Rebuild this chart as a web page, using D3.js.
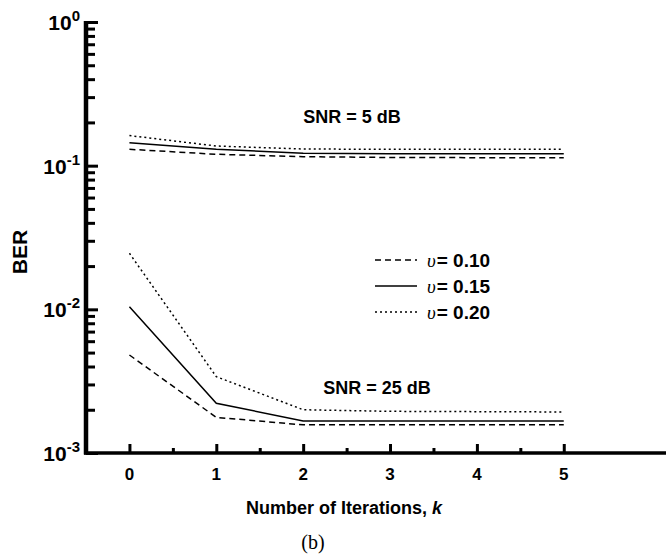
<!DOCTYPE html>
<html><head><meta charset="utf-8">
<script src="https://cdn.jsdelivr.net/npm/d3@7"></script>
<style>body{margin:0;background:#fff}svg{display:block}</style>
</head><body>
<svg id="c" width="666" height="557"></svg>
<script>
const iterations = [0, 1, 2, 3, 4, 5];
const snr5_v010 = [0.130, 0.120, 0.1155, 0.114, 0.1137, 0.1137];
const snr5_v015 = [0.1445, 0.130, 0.122, 0.121, 0.121, 0.121];
const snr5_v020 = [0.162, 0.137, 0.1306, 0.130, 0.130, 0.130];
const snr25_v010 = [0.00481, 0.00177, 0.00157, 0.00157, 0.00157, 0.00157];
const snr25_v015 = [0.01044, 0.00222, 0.00167, 0.00167, 0.00167, 0.00167];
const snr25_v020 = [0.02455, 0.0034, 0.0020, 0.00195, 0.00194, 0.00193];
const legendLabels = ["0.10", "0.15", "0.20"];
const xTicks = [0, 1, 2, 3, 4, 5];
const yDecades = [0, -1, -2, -3];

const svg = d3.select("#c");
const x = d3.scaleLinear().domain([-0.5, 6.2]).range([86, 668]);
const y = d3.scaleLog().domain([1e-3, 1]).range([453, 22]);
const dashes = ["6,4", null, "2,3"];

const line = d3.line().x((d, i) => x(iterations[i])).y(d => y(d));
const groups = [[snr5_v010, snr5_v015, snr5_v020], [snr25_v010, snr25_v015, snr25_v020]];
groups.forEach(g => g.forEach((s, j) => {
  svg.append("path").attr("d", line(s)).attr("fill", "none").attr("stroke", "#000")
    .attr("stroke-width", 1.5).attr("stroke-dasharray", dashes[j]);
}));

// axes
const yAxis = d3.axisRight(y).tickValues(
  d3.range(-3, 0).flatMap(e => d3.range(1, 10).map(m => m * Math.pow(10, e))).concat([1])
).tickFormat("").tickSizeOuter(0).tickSize(0);
const yg = svg.append("g").attr("transform", `translate(${x(-0.5)},0)`).call(yAxis);
yg.select(".domain").remove();
yg.selectAll(".tick line").each(function(d){
  const major = Math.abs(Math.log10(d) - Math.round(Math.log10(d))) < 1e-9;
  d3.select(this).attr("x2", major ? 12 : 9).attr("stroke-width", 3).attr("stroke","#000");
});
svg.append("line").attr("x1", x(-0.5)).attr("x2", x(-0.5)).attr("y1", y(1) - 1).attr("y2", y(1e-3) + 1.5)
  .attr("stroke", "#000").attr("stroke-width", 4.5);

const xAxis = d3.axisTop(x).tickValues(d3.range(0, 5.01, 0.5)).tickFormat("").tickSize(0).tickSizeOuter(0);
const xg = svg.append("g").attr("transform", `translate(0,${y(1e-3)})`).call(xAxis);
xg.select(".domain").remove();
xg.selectAll(".tick line").each(function(d){
  const major = Math.abs(d - Math.round(d)) < 1e-9;
  d3.select(this).attr("y2", major ? -9 : -5).attr("stroke-width", 3).attr("stroke","#000");
});
svg.append("line").attr("x1", x(-0.5) - 2).attr("x2", 668).attr("y1", y(1e-3)).attr("y2", y(1e-3))
  .attr("stroke", "#000").attr("stroke-width", 3.5);

const bold = "Liberation Sans, Arial, sans-serif";
xTicks.forEach(t => {
  svg.append("text").attr("x", x(t)).attr("y", 480).attr("text-anchor", "middle")
    .attr("font-family", bold).attr("font-weight", "bold").attr("font-size", 17).text(t);
});
yDecades.forEach(e => {
  const t = svg.append("text").attr("x", 80).attr("y", y(Math.pow(10, e)) + 8).attr("text-anchor", "end")
    .attr("font-family", bold).attr("font-weight", "bold").attr("font-size", 21);
  t.append("tspan").text("10");
  t.append("tspan").attr("dy", -9).attr("font-size", 15).text(e);
});

svg.append("text").attr("transform", "translate(27,252) rotate(-90)").attr("text-anchor", "middle")
  .attr("font-family", bold).attr("font-weight", "bold").attr("font-size", 21).text("BER");

const xt = svg.append("text").attr("x", 344).attr("y", 514).attr("text-anchor", "middle")
  .attr("font-family", bold).attr("font-weight", "bold").attr("font-size", 18);
xt.append("tspan").text("Number of Iterations, ");
xt.append("tspan").attr("font-style", "italic").text("k");

svg.append("text").attr("x", 313).attr("y", 549).attr("text-anchor", "middle")
  .attr("font-family", "Liberation Serif, Times New Roman, serif").attr("font-size", 20).text("(b)");

svg.append("text").attr("x", 352).attr("y", 123).attr("text-anchor", "middle")
  .attr("font-family", bold).attr("font-weight", "bold").attr("font-size", 18).text("SNR = 5 dB");
svg.append("text").attr("x", 377).attr("y", 394).attr("text-anchor", "middle")
  .attr("font-family", bold).attr("font-weight", "bold").attr("font-size", 18).text("SNR = 25 dB");

legendLabels.forEach((lab, j) => {
  const yy = 260 + j * 26;
  svg.append("line").attr("x1", 375).attr("x2", 417).attr("y1", yy).attr("y2", yy)
    .attr("stroke", "#000").attr("stroke-width", 1.5).attr("stroke-dasharray", dashes[j]);
  const t = svg.append("text").attr("x", 427).attr("y", yy + 7)
    .attr("font-family", bold).attr("font-weight", "bold").attr("font-size", 19);
  t.append("tspan").attr("font-style", "italic").attr("font-weight", "normal")
    .attr("font-family", "Liberation Serif, serif").text("υ");
  t.append("tspan").attr("dx", 1).text("= " + lab);
});
</script>
</body></html>
